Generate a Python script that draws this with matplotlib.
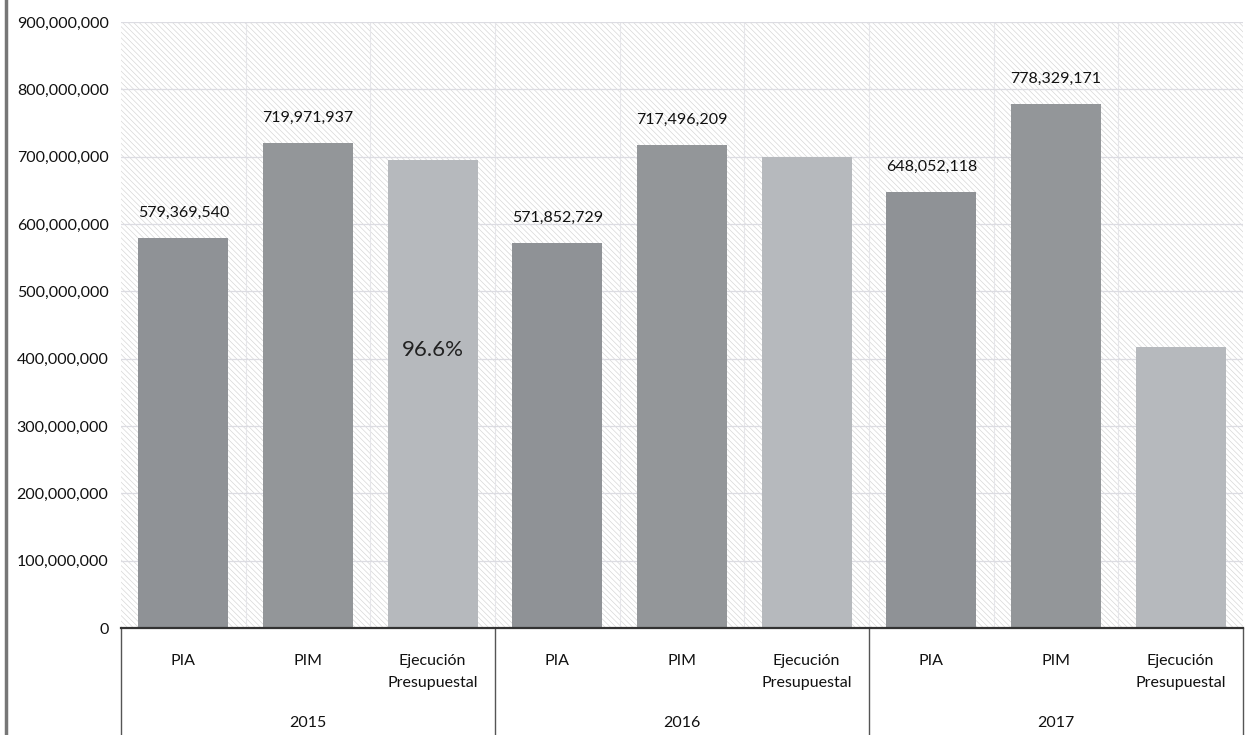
import matplotlib
matplotlib.use("Agg")
import matplotlib.pyplot as plt
from matplotlib.patches import Rectangle
from matplotlib.lines import Line2D
from matplotlib.ticker import FuncFormatter, MultipleLocator

plt.rcParams['font.family'] = ['Lato', 'DejaVu Sans']
plt.rcParams['hatch.linewidth'] = 0.45

years = ["2015", "2016", "2017"]
categories = ["PIA", "PIM", "Ejecución\nPresupuestal"]
values = [579369540, 719971937, 695500000,
          571852729, 717496209, 700000000,
          648052118, 778329171, 418000000]
value_labels = ["579,369,540", "719,971,937", "",
                "571,852,729", "717,496,209", "",
                "648,052,118", "778,329,171", ""]
pct_label = "96.6%"
cat_colors = ["#8f9296", "#939699", "#b6b9bd"]

fig = plt.figure(figsize=(12.46, 7.35), dpi=100)
ax = fig.add_axes([121/1246, 107/735, 1122/1246, 606/735])

n = len(values)
xs = list(range(n))
ax.set_xlim(-0.5, n - 0.5)
ax.set_ylim(0, 900000000)

# hatched background
bg = Rectangle((0, 0), 1, 1, transform=ax.transAxes, facecolor="white",
               edgecolor="#d4d4d4", hatch="\\\\\\\\\\\\", linewidth=0, zorder=0)
ax.add_patch(bg)

ax.yaxis.set_major_locator(MultipleLocator(100000000))
ax.yaxis.set_major_formatter(FuncFormatter(lambda v, p: f"{int(v):,}"))
ax.grid(axis="y", color="#dcdce2", linewidth=0.9, zorder=1)
for b in range(1, n):
    ax.axvline(b - 0.5, color="#e6e6ea", linewidth=0.8, zorder=1)

colors = [cat_colors[i % 3] for i in range(n)]
ax.bar(xs, values, width=0.72, color=colors, zorder=2)

for x, v, lab in zip(xs, values, value_labels):
    if lab:
        ax.annotate(lab, (x, v), xytext=(0, 13), textcoords="offset points",
                    ha="center", va="bottom", fontsize=11.5, color="#111111")
ax.text(2, 413000000, pct_label, ha="center", va="center", fontsize=16,
        color="#222222", zorder=3)

for s in ["top", "right", "left"]:
    ax.spines[s].set_visible(False)
ax.spines["bottom"].set_color("#333333")
ax.spines["bottom"].set_linewidth(1.6)
ax.set_xticks([])
ax.tick_params(axis="y", length=0, pad=9, labelsize=11.5, labelcolor="#111111")

trans = ax.get_xaxis_transform()
for x in xs:
    ax.text(x, -0.043, categories[x % 3], transform=trans, ha="center", va="top",
            fontsize=11.5, color="#111111", linespacing=1.75)
for g, yr in enumerate(years):
    ax.text(g * 3 + 1, -0.157, yr, transform=trans, ha="center", va="center",
            fontsize=11.5, color="#111111")
for b in [-0.5, 2.5, 5.5, 8.5]:
    ax.add_line(Line2D([b, b], [0, -0.2], transform=trans, color="#555555",
                       linewidth=1.0, clip_on=False))

# left scan border
fig.add_artist(Line2D([6/1246, 6/1246], [0, 1], transform=fig.transFigure,
                      color="#777777", linewidth=2.5))

fig.savefig("out.png", dpi=100)
